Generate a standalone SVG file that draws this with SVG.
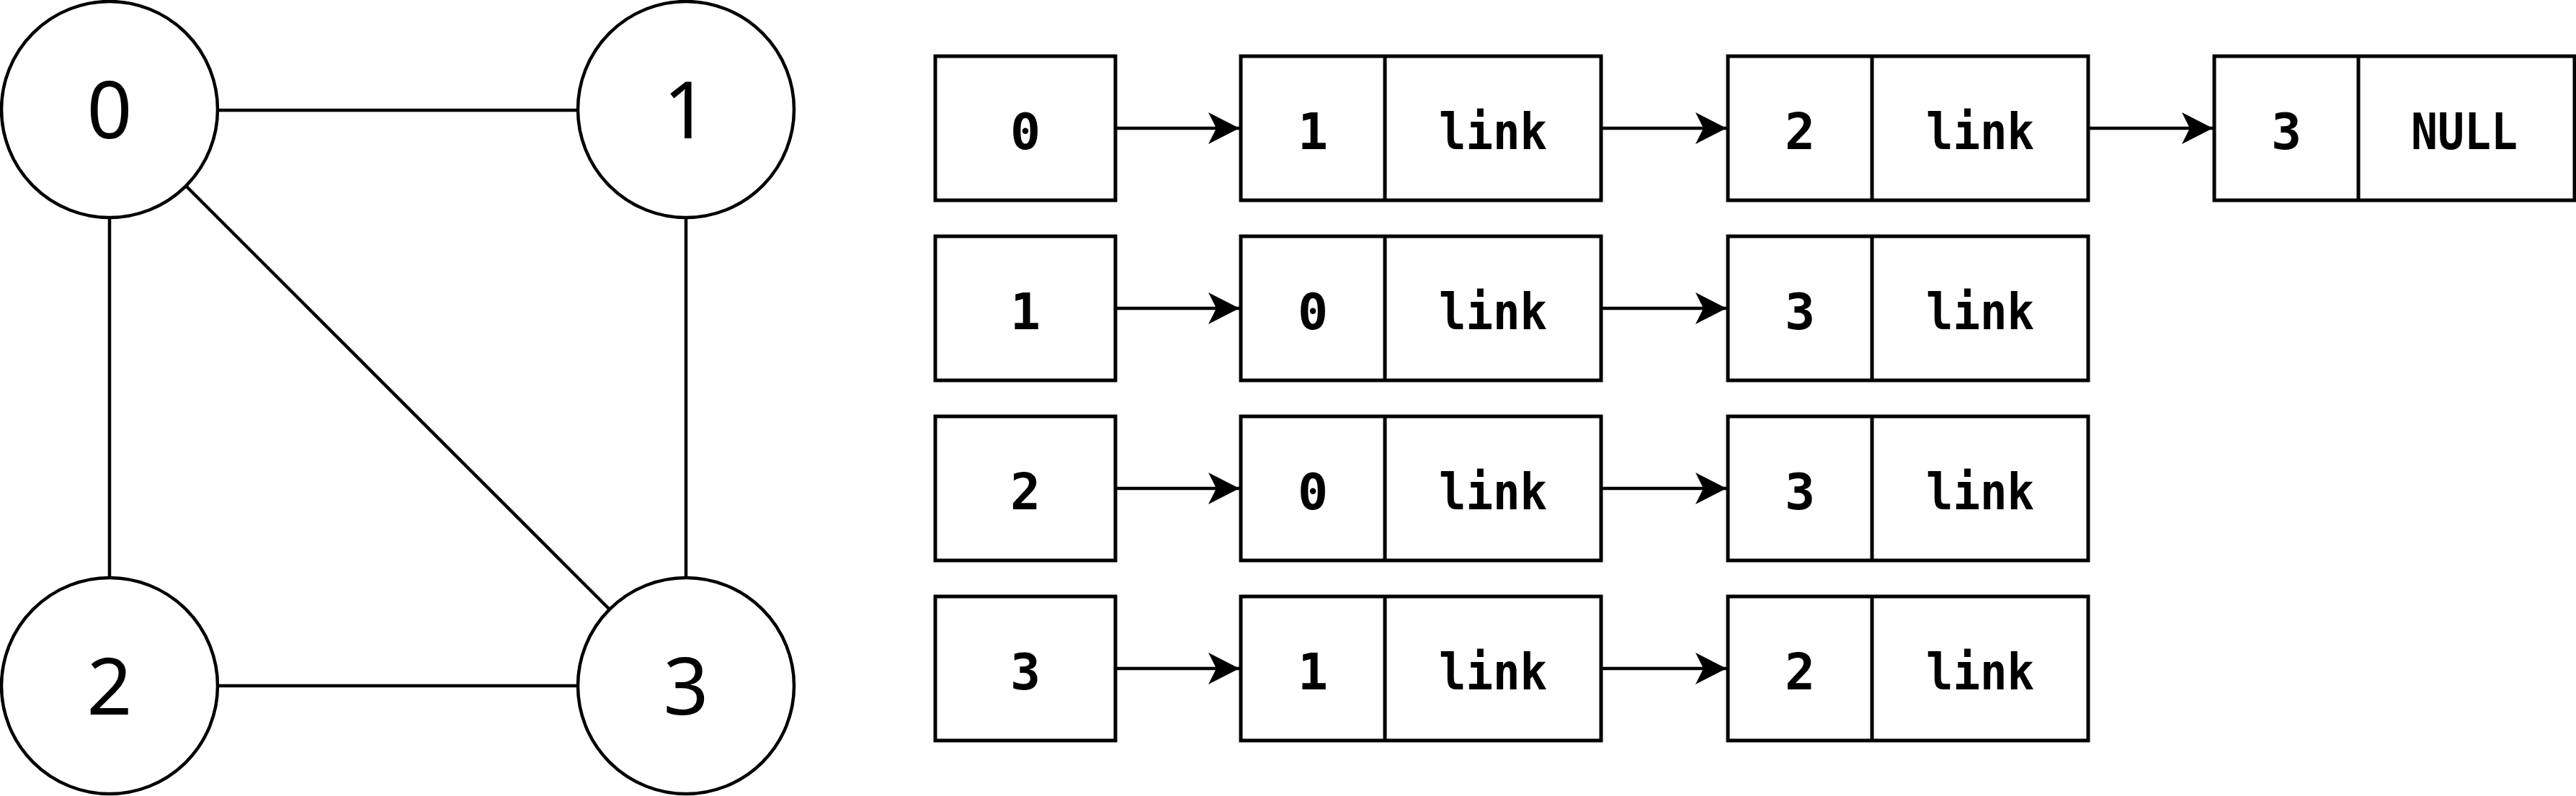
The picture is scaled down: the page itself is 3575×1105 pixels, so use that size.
<svg xmlns="http://www.w3.org/2000/svg" width="3575" height="1105" viewBox="0 0 3575 1105">
<style>
.bg{fill:#ffffff}
.c{fill:#ffffff;stroke:#000000;stroke-width:4.5}
.r{fill:#ffffff;stroke:#000000;stroke-width:5}
.d{stroke:#000000;stroke-width:5;fill:none}
.e{stroke:#000000;stroke-width:4.5;fill:none}
.a{stroke:#000000;stroke-width:4.5;fill:none;marker-end:url(#arr)}
.ct{font-family:"Noto Sans","Liberation Sans",sans-serif;font-size:110px;fill:#000000;text-anchor:middle}
.mt{font-family:"DejaVu Sans Mono","Liberation Mono",monospace;font-weight:bold;font-size:70px;fill:#000000;text-anchor:middle}
</style>
<defs>
<marker id="arr" markerUnits="userSpaceOnUse" markerWidth="50" markerHeight="50" viewBox="-45 -25 50 50" refX="0" refY="0" orient="auto" overflow="visible">
<path d="M0,0 L-43,-22 L-32,0 L-43,22 Z" fill="#000000"/>
</marker>
</defs>
<rect class="bg" x="0" y="0" width="3575" height="1105"/>
<g id="edges">
<line class="e" x1="302" y1="153" x2="802" y2="153"/>
<line class="e" x1="152" y1="303" x2="152" y2="802"/>
<line class="e" x1="952" y1="303" x2="952" y2="802"/>
<line class="e" x1="302" y1="952" x2="802" y2="952"/>
<line class="e" x1="258" y1="258" x2="846" y2="846"/>
<line class="a" x1="1548" y1="178" x2="1720" y2="178"/>
<line class="a" x1="2222" y1="178" x2="2396" y2="178"/>
<line class="a" x1="2898" y1="178" x2="3071" y2="178"/>
<line class="a" x1="1548" y1="428" x2="1720" y2="428"/>
<line class="a" x1="2222" y1="428" x2="2396" y2="428"/>
<line class="a" x1="1548" y1="678" x2="1720" y2="678"/>
<line class="a" x1="2222" y1="678" x2="2396" y2="678"/>
<line class="a" x1="1548" y1="928" x2="1720" y2="928"/>
<line class="a" x1="2222" y1="928" x2="2396" y2="928"/>
</g>
<g id="v0"><circle class="c" cx="152" cy="152" r="150"/><text class="ct" x="152" y="192">0</text></g>
<g id="v1"><circle class="c" cx="952" cy="152" r="150"/><text class="ct" x="952" y="192">1</text></g>
<g id="v2"><circle class="c" cx="152" cy="952" r="150"/><text class="ct" x="152" y="992">2</text></g>
<g id="v3"><circle class="c" cx="952" cy="952" r="150"/><text class="ct" x="952" y="992">3</text></g>

<g id="h0"><rect class="r" x="1298" y="78" width="250" height="200"/><text class="mt" x="1423" y="207">0</text></g>
<g id="h1"><rect class="r" x="1298" y="328" width="250" height="200"/><text class="mt" x="1423" y="457">1</text></g>
<g id="h2"><rect class="r" x="1298" y="578" width="250" height="200"/><text class="mt" x="1423" y="707">2</text></g>
<g id="h3"><rect class="r" x="1298" y="828" width="250" height="200"/><text class="mt" x="1423" y="957">3</text></g>

<g id="n0a"><rect class="r" x="1722" y="78" width="500" height="200"/><line class="d" x1="1922" y1="78" x2="1922" y2="278"/><text class="mt" x="1822" y="207">1</text><text class="mt" x="2072" y="207" textLength="150" lengthAdjust="spacingAndGlyphs">link</text></g>
<g id="n0b"><rect class="r" x="2398" y="78" width="500" height="200"/><line class="d" x1="2598" y1="78" x2="2598" y2="278"/><text class="mt" x="2498" y="207">2</text><text class="mt" x="2748" y="207" textLength="150" lengthAdjust="spacingAndGlyphs">link</text></g>
<g id="n0c"><rect class="r" x="3073" y="78" width="500" height="200"/><line class="d" x1="3273" y1="78" x2="3273" y2="278"/><text class="mt" x="3173" y="207">3</text><text class="mt" x="3420" y="207" textLength="148" lengthAdjust="spacingAndGlyphs">NULL</text></g>

<g id="n1a"><rect class="r" x="1722" y="328" width="500" height="200"/><line class="d" x1="1922" y1="328" x2="1922" y2="528"/><text class="mt" x="1822" y="457">0</text><text class="mt" x="2072" y="457" textLength="150" lengthAdjust="spacingAndGlyphs">link</text></g>
<g id="n1b"><rect class="r" x="2398" y="328" width="500" height="200"/><line class="d" x1="2598" y1="328" x2="2598" y2="528"/><text class="mt" x="2498" y="457">3</text><text class="mt" x="2748" y="457" textLength="150" lengthAdjust="spacingAndGlyphs">link</text></g>

<g id="n2a"><rect class="r" x="1722" y="578" width="500" height="200"/><line class="d" x1="1922" y1="578" x2="1922" y2="778"/><text class="mt" x="1822" y="707">0</text><text class="mt" x="2072" y="707" textLength="150" lengthAdjust="spacingAndGlyphs">link</text></g>
<g id="n2b"><rect class="r" x="2398" y="578" width="500" height="200"/><line class="d" x1="2598" y1="578" x2="2598" y2="778"/><text class="mt" x="2498" y="707">3</text><text class="mt" x="2748" y="707" textLength="150" lengthAdjust="spacingAndGlyphs">link</text></g>

<g id="n3a"><rect class="r" x="1722" y="828" width="500" height="200"/><line class="d" x1="1922" y1="828" x2="1922" y2="1028"/><text class="mt" x="1822" y="957">1</text><text class="mt" x="2072" y="957" textLength="150" lengthAdjust="spacingAndGlyphs">link</text></g>
<g id="n3b"><rect class="r" x="2398" y="828" width="500" height="200"/><line class="d" x1="2598" y1="828" x2="2598" y2="1028"/><text class="mt" x="2498" y="957">2</text><text class="mt" x="2748" y="957" textLength="150" lengthAdjust="spacingAndGlyphs">link</text></g>
</svg>
